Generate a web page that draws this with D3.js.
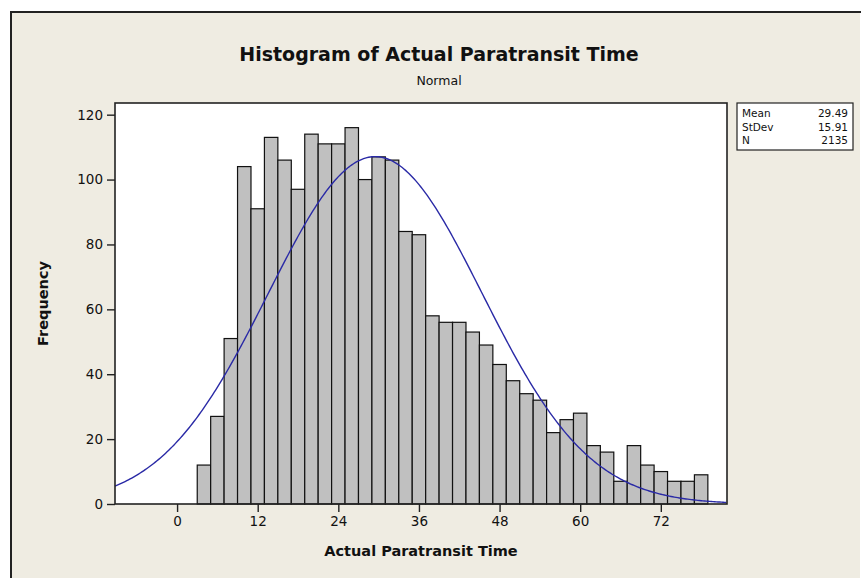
<!DOCTYPE html>
<html>
<head>
<meta charset="utf-8">
<script src="https://cdn.jsdelivr.net/npm/d3@7"></script>
<style>
  body { margin: 0; background: #fff; }
  text { font-family: Tahoma, "DejaVu Sans", sans-serif; fill: #111; }
</style>
</head>
<body>
<svg id="chart"></svg>
<script>
// histogram bins (centers, width 2) and counts
var binCenters = [4, 6, 8, 10, 12, 14, 16, 18, 20, 22, 24, 26, 28, 30, 32, 34, 36, 38, 40,
                  42, 44, 46, 48, 50, 52, 54, 56, 58, 60, 62, 64, 66, 68, 70, 72, 74, 76, 78];
var counts = [12, 27, 51, 104, 91, 113, 106, 97, 114, 111, 111, 116, 100, 107, 106, 84, 83, 58, 56,
              56, 53, 49, 43, 38, 34, 32, 22, 26, 28, 18, 16, 7, 18, 12, 10, 7, 7, 9];
var binWidth = 2;

var xTicks = [0, 12, 24, 36, 48, 60, 72];
var yTicks = [0, 20, 40, 60, 80, 100, 120];

var statLabels = ["Mean", "StDev", "N"];
var statValues = ["29.49", "15.91", "2135"];
var fitMean = 29.49, fitSd = 15.91, fitN = 2135;

var W = 861, H = 580;
var margin = {top: 103, right: 134, bottom: 76, left: 115},
    width = W - margin.left - margin.right,
    height = H - margin.top - margin.bottom;

var x = d3.scaleLinear().domain([-9.24, 81.85]).range([0, width]);
var y = d3.scaleLinear().domain([0, 123.6]).range([height, 0]);

var root = d3.select("#chart").attr("width", W).attr("height", H);

// window-ish panel
root.append("rect").attr("x", 10).attr("y", 11).attr("width", 850).attr("height", 567)
    .attr("fill", "#efece2");
root.append("path").attr("d", "M11,578V12H861").attr("fill", "none")
    .attr("stroke", "#222").attr("stroke-width", 2);

root.append("text").attr("x", 439).attr("y", 61).attr("text-anchor", "middle")
    .style("font-size", "19px").style("font-weight", "bold")
    .text("Histogram of Actual Paratransit Time");
root.append("text").attr("x", 439).attr("y", 85).attr("text-anchor", "middle")
    .style("font-size", "12.5px")
    .text("Normal");

var svg = root.append("g")
    .attr("transform", "translate(" + margin.left + "," + margin.top + ")");

svg.append("rect").attr("width", width).attr("height", height).attr("fill", "#fff");

// bars
svg.selectAll(".bar")
    .data(binCenters)
  .enter().append("rect")
    .attr("class", "bar")
    .attr("x", function(d) { return x(d - binWidth / 2); })
    .attr("width", function(d) { return x(d + binWidth / 2) - x(d - binWidth / 2); })
    .attr("y", function(d, i) { return y(counts[i]); })
    .attr("height", function(d, i) { return height - y(counts[i]); })
    .attr("fill", "#c0c0c0")
    .attr("stroke", "#111")
    .attr("stroke-width", 1.2);

// fitted normal curve from the stats shown in the box
var curvePts = d3.range(x.domain()[0], x.domain()[1] + 0.01, 0.25).map(function(v) {
  var z = (v - fitMean) / fitSd;
  return [v, fitN * binWidth * Math.exp(-0.5 * z * z) / (fitSd * Math.sqrt(2 * Math.PI))];
});
svg.append("path")
    .datum(curvePts)
    .attr("fill", "none")
    .attr("stroke", "#2a2aa6")
    .attr("stroke-width", 1.4)
    .attr("d", d3.line().x(function(d) { return x(d[0]); }).y(function(d) { return y(d[1]); }));

svg.append("rect").attr("width", width).attr("height", height)
    .attr("fill", "none").attr("stroke", "#222").attr("stroke-width", 1.6);

// axes
var x_axis = d3.axisBottom(x).tickValues(xTicks).tickSize(8).tickPadding(4);
var y_axis = d3.axisLeft(y).tickValues(yTicks).tickSize(8).tickPadding(4);

var gx = svg.append("g").attr("transform", "translate(0," + height + ")").call(x_axis);
var gy = svg.append("g").call(y_axis);
[gx, gy].forEach(function(g) {
  g.select(".domain").remove();
  g.selectAll(".tick line").attr("stroke", "#222").attr("stroke-width", 1.4);
  g.selectAll(".tick text").style("font-size", "13.5px").style("font-family", 'Tahoma, "DejaVu Sans", sans-serif').attr("fill", "#111");
});

svg.append("text")
    .attr("x", width / 2).attr("y", height + 52)
    .attr("text-anchor", "middle")
    .style("font-size", "14.5px").style("font-weight", "bold")
    .text("Actual Paratransit Time");

svg.append("text")
    .attr("transform", "rotate(-90)")
    .attr("x", -height / 2).attr("y", -67)
    .attr("text-anchor", "middle")
    .style("font-size", "14.5px").style("font-weight", "bold")
    .text("Frequency");

// stats box
var box = root.append("g").attr("transform", "translate(737,103)");
box.append("rect").attr("width", 116).attr("height", 47)
    .attr("fill", "#fff").attr("stroke", "#222").attr("stroke-width", 1.2);
statLabels.forEach(function(s, i) {
  box.append("text").attr("x", 5).attr("y", 14 + i * 13.5)
      .style("font-size", "10.5px").text(s);
  box.append("text").attr("x", 111).attr("y", 14 + i * 13.5)
      .attr("text-anchor", "end").style("font-size", "10.5px").text(statValues[i]);
});
</script>
</body>
</html>
